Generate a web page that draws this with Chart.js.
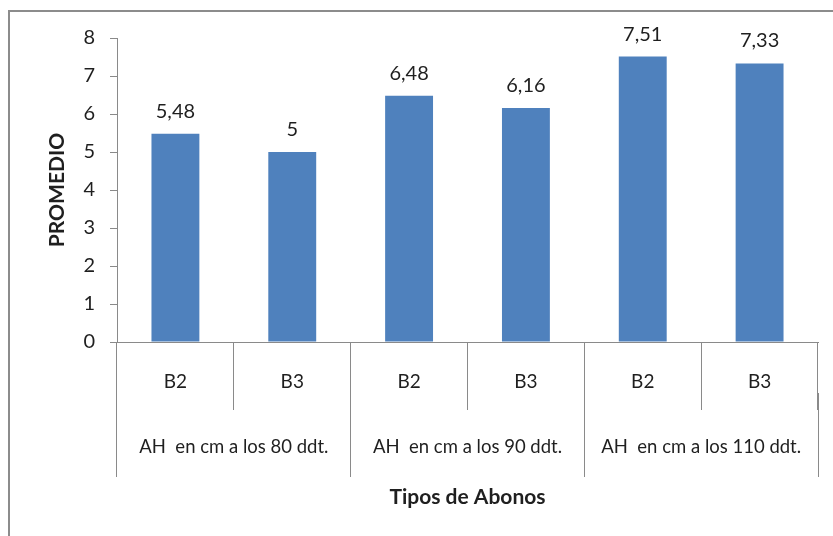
<!DOCTYPE html>
<html>
<head>
<meta charset="utf-8">
<script src="https://cdn.jsdelivr.net/npm/chart.js@4"></script>
<style>
  html, body { margin: 0; padding: 0; background: #fff; }
  #wrap { width: 833px; height: 536px; }
</style>
</head>
<body>
<div id="wrap"><canvas id="barChart" width="833" height="536"></canvas></div>
<script>
// categorias: abono por grupo de fecha
const abonos = ['B2', 'B3', 'B2', 'B3', 'B2', 'B3'];
const grupos = ['AH  en cm a los 80 ddt.', 'AH  en cm a los 90 ddt.', 'AH  en cm a los 110 ddt.'];
const promedios = [5.48, 5, 6.48, 6.16, 7.51, 7.33];
const yTicks = [0, 1, 2, 3, 4, 5, 6, 7, 8];

const fuente = 'Lato, "Open Sans", sans-serif';
const gris = '#8a8a8a';
const texto = '#1f1f1f';

// marco gris (solo arriba e izquierda)
const marco = {
    id: 'marco',
    beforeDraw(chart) {
        const ctx = chart.ctx;
        ctx.save();
        ctx.strokeStyle = '#8c8c8c';
        ctx.lineWidth = 2;
        ctx.beginPath();
        ctx.moveTo(9, 536);
        ctx.lineTo(9, 11);
        ctx.lineTo(833, 11);
        ctx.stroke();
        ctx.restore();
    }
};

// etiquetas de valor encima de cada barra
const etiquetas = {
    id: 'etiquetas',
    afterDatasetsDraw(chart) {
        const ctx = chart.ctx;
        const meta = chart.getDatasetMeta(0);
        ctx.save();
        ctx.font = '20px ' + fuente;
        ctx.fillStyle = texto;
        ctx.textAlign = 'center';
        ctx.textBaseline = 'alphabetic';
        meta.data.forEach((bar, i) => {
            const txt = String(promedios[i]).replace('.', ',');
            ctx.fillText(txt, bar.x, bar.y - 16);
        });
        ctx.restore();
    }
};

new Chart(document.getElementById('barChart'), {
    type: 'bar',
    data: {
        labels: abonos,
        datasets: [{
            label: 'Promedio',
            data: promedios,
            backgroundColor: '#4f81bd',
            barPercentage: 0.41,
            categoryPercentage: 1
        }]
    },
    options: {
        responsive: false,
        animation: false,
        layout: { padding: { top: 38, right: 15, left: 0, bottom: 0 } },
        plugins: {
            legend: { display: false },
            tooltip: { enabled: false }
        },
        scales: {
            y: {
                min: 0,
                max: 8,
                afterBuildTicks(scale) {
                    scale.ticks = yTicks.map(v => ({ value: v }));
                },
                afterFit(scale) { scale.width = 117; },
                grid: { drawOnChartArea: false, tickLength: 7, color: gris },
                border: { color: gris },
                ticks: { padding: 15, color: texto, font: { family: fuente, size: 20 } },
                title: {
                    display: true,
                    text: 'PROMEDIO',
                    color: texto,
                    padding: { top: 45, bottom: 0 },
                    font: { family: fuente, size: 21, weight: 'bold' }
                }
            },
            x: {
                position: 'bottom',
                afterFit(scale) { scale.height = 51; },
                grid: { drawOnChartArea: false, offset: true, tickLength: 68, color: gris },
                border: { color: gris },
                ticks: { padding: -40, color: texto, font: { family: fuente, size: 19 } }
            },
            x2: {
                type: 'category',
                position: 'bottom',
                labels: grupos,
                afterFit(scale) { scale.height = 143; },
                grid: { drawOnChartArea: false, offset: true, tickLength: 84, color: gris },
                border: { display: false },
                ticks: { padding: -41, color: texto, font: { family: fuente, size: 18.5 } },
                title: {
                    display: true,
                    text: 'Tipos de Abonos',
                    color: texto,
                    padding: { top: 0, bottom: 26 },
                    font: { family: fuente, size: 21, weight: 'bold' }
                }
            }
        }
    },
    plugins: [marco, etiquetas]
});
</script>
</body>
</html>
